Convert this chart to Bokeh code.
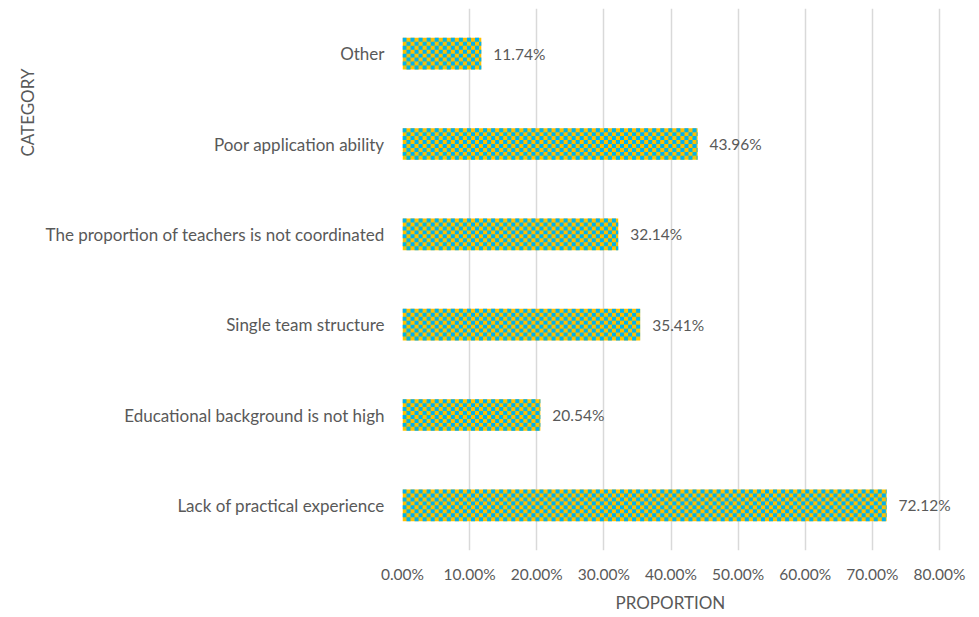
import math
from bokeh.plotting import figure
from bokeh.models import (ColumnDataSource, LabelSet, Title, NumeralTickFormatter,
                          FixedTicker, Range1d)
from bokeh.core.properties import value
from bokeh.embed import file_html
from bokeh.resources import INLINE

categories = [
    "Lack of practical experience",
    "Educational background is not high",
    "Single team structure",
    "The proportion of teachers is not coordinated",
    "Poor application ability",
    "Other",
]
proportions = [0.7212, 0.2054, 0.3541, 0.3214, 0.4396, 0.1174]
labels = ["72.12%", "20.54%", "35.41%", "32.14%", "43.96%", "11.74%"]
x_ticks = [0.0, 0.1, 0.2, 0.3, 0.4, 0.5, 0.6, 0.7, 0.8]

FONT = "Lato"
GREY = "#595959"
YELLOW = "#FFC000"
CYAN = "#00B0F0"
BAR_H = 0.35
CELL_X = 0.006
ROWS = 8

ypos = [i + 0.5 for i in range(len(categories))]
src = ColumnDataSource(dict(y=ypos, val=proportions, lab=labels))

# checkerboard cells computed from the bar values
cl, cr, cb, ct = [], [], [], []
dy = BAR_H / ROWS
for yc, v in zip(ypos, proportions):
    ncol = int(math.ceil(v / CELL_X))
    for c in range(ncol):
        for r in range(ROWS):
            if (c + r) % 2 == 0:
                cl.append(c * CELL_X)
                cr.append(min((c + 1) * CELL_X, v))
                top = yc + BAR_H / 2 - r * dy
                ct.append(top)
                cb.append(top - dy)
cells = ColumnDataSource(dict(left=cl, right=cr, bottom=cb, top=ct))

p = figure(
    width=979, height=617,
    y_range=Range1d(0, len(categories)),
    x_range=Range1d(0, 0.8 * 577 / 537),
    output_backend="svg", toolbar_location=None,
    min_border_left=402, min_border_right=0, min_border_top=8, min_border_bottom=67,
)
p.outline_line_color = None
p.background_fill_color = "white"
p.border_fill_color = "white"

p.hbar(y="y", right="val", left=0, height=BAR_H, source=src,
       fill_color=YELLOW, line_color=None)
p.quad(left="left", right="right", bottom="bottom", top="top", source=cells,
       fill_color=CYAN, line_color=None)

lbl = LabelSet(x="val", y="y", text="lab", source=src, x_offset=12,
               text_baseline="middle", text_font=value(FONT), text_font_size="15.5px",
               text_color=GREY)
p.add_layout(lbl)

p.xaxis.ticker = FixedTicker(ticks=x_ticks)
p.xgrid.ticker = FixedTicker(ticks=x_ticks)
p.xaxis.formatter = NumeralTickFormatter(format="0.00%")
p.xaxis.axis_line_color = None
p.xaxis.major_tick_line_color = None
p.xaxis.minor_tick_line_color = None
p.xaxis.major_label_text_font = FONT
p.xaxis.major_label_text_font_size = "15.5px"
p.xaxis.major_label_text_color = GREY
p.xaxis.major_label_standoff = 8

x_title = Title(text="PROPORTION", align="left", offset=213, standoff=8,
                text_font=FONT, text_font_size="17px", text_font_style="normal",
                text_color=GREY)
p.add_layout(x_title, "below")

p.yaxis.ticker = FixedTicker(ticks=ypos)
p.yaxis.major_label_overrides = {y: c for y, c in zip(ypos, categories)}
p.yaxis.axis_line_color = None
p.yaxis.major_tick_line_color = None
p.yaxis.minor_tick_line_color = None
p.yaxis.major_label_text_font = FONT
p.yaxis.major_label_text_font_size = "17px"
p.yaxis.major_label_text_color = GREY
p.yaxis.major_label_standoff = 12

cat_title = Title(text="CATEGORY", align="right", offset=60,
                  text_font=FONT, text_font_size="17px", text_font_style="normal",
                  text_color=GREY)
p.add_layout(cat_title, "left")

p.ygrid.grid_line_color = None
p.xgrid.grid_line_color = "#D9D9D9"
p.xgrid.grid_line_width = 1.5

open("out.html", "w").write(file_html(p, INLINE))
